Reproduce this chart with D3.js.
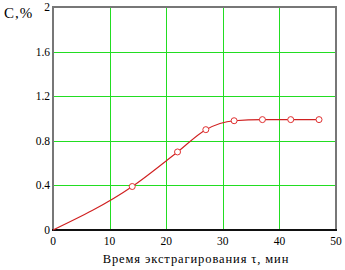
<!DOCTYPE html>
<html>
<head>
<meta charset="UTF-8" />
<title>Extraction</title>
<style>
  body { margin: 0; background: #fff; }
  svg { display: block; }
  .tick-label { font-family: "Liberation Serif", serif; font-size: 11.5px; fill: #000; }
  .title { font-family: "Liberation Serif", serif; fill: #000; }
  .grid { stroke: #22dd22; stroke-width: 1px; shape-rendering: crispEdges; }
  .curve { fill: none; stroke: #d02020; stroke-width: 1.1px; }
  .pt { fill: #fff; stroke: #e03030; stroke-width: 1px; }
</style>
<script src="https://d3js.org/d3.v7.min.js"></script>
</head>
<body>
<script>
// data
var timeMin = [0, 14, 22, 27, 32, 37, 42, 47];
var concPct = [0, 0.39, 0.70, 0.90, 0.98, 0.99, 0.99, 0.99];
var markerIdx = [1, 2, 3, 4, 5, 6, 7];
var xTicks = [0, 10, 20, 30, 40, 50];
var yTicks = [0, 0.4, 0.8, 1.2, 1.6, 2];
var yLabels = ["0", "0.4", "0.8", "1.2", "1.6", "2"];

var width = 345, height = 270;
var plotL = 53, plotR = 336, plotT = 7, plotB = 230;

var svg = d3.select("body").append("svg")
  .attr("width", width)
  .attr("height", height);

var x = d3.scaleLinear().domain([0, 50]).range([plotL, plotR]);
var y = d3.scaleLinear().domain([0, 2]).range([plotB, plotT]);

// grid
svg.append("g").selectAll("line")
  .data(xTicks.slice(1, -1))
  .enter().append("line")
  .attr("class", "grid")
  .attr("x1", function(d) { return Math.round(x(d)) + 0.5; })
  .attr("x2", function(d) { return Math.round(x(d)) + 0.5; })
  .attr("y1", plotT).attr("y2", plotB);

svg.append("g").selectAll("line")
  .data(yTicks.slice(1, -1))
  .enter().append("line")
  .attr("class", "grid")
  .attr("y1", function(d) { return Math.round(y(d)) + 0.5; })
  .attr("y2", function(d) { return Math.round(y(d)) + 0.5; })
  .attr("x1", plotL).attr("x2", plotR);

// frame
svg.append("path")
  .attr("d", "M" + plotL + "," + plotB + "V" + plotT + "H" + plotR + "V" + plotB)
  .attr("fill", "none").attr("stroke", "#777").attr("stroke-width", 2);
svg.append("line")
  .attr("x1", plotL - 1).attr("x2", plotR + 1)
  .attr("y1", plotB).attr("y2", plotB)
  .attr("stroke", "#111").attr("stroke-width", 2);

// tick labels
svg.append("g").selectAll("text")
  .data(xTicks)
  .enter().append("text")
  .attr("class", "tick-label")
  .attr("x", function(d) { return x(d); })
  .attr("y", plotB + 15)
  .attr("text-anchor", "middle")
  .text(function(d) { return d; });

svg.append("g").selectAll("text")
  .data(yTicks)
  .enter().append("text")
  .attr("class", "tick-label")
  .attr("x", plotL - 3)
  .attr("y", function(d) { return y(d) + 4; })
  .attr("text-anchor", "end")
  .text(function(d, i) { return yLabels[i]; });

// axis titles
svg.append("text")
  .attr("class", "title")
  .attr("x", 4).attr("y", 18)
  .style("font-size", "15px")
  .style("letter-spacing", "1px")
  .text("С,%");

svg.append("text")
  .attr("class", "title")
  .attr("x", 196).attr("y", 263)
  .attr("text-anchor", "middle")
  .style("font-size", "12.5px")
  .style("letter-spacing", "0.9px")
  .text("Время экстрагирования τ, мин");

// curve
var pts = timeMin.map(function(t, i) { return [t, concPct[i]]; });
var line = d3.line()
  .x(function(d) { return x(d[0]); })
  .y(function(d) { return y(d[1]); })
  .curve(d3.curveMonotoneX);

svg.append("path")
  .datum(pts)
  .attr("class", "curve")
  .attr("d", line);

svg.append("g").selectAll("circle")
  .data(markerIdx.map(function(i) { return pts[i]; }))
  .enter().append("circle")
  .attr("class", "pt")
  .attr("r", 3)
  .attr("cx", function(d) { return x(d[0]); })
  .attr("cy", function(d) { return y(d[1]); });
</script>
</body>
</html>
